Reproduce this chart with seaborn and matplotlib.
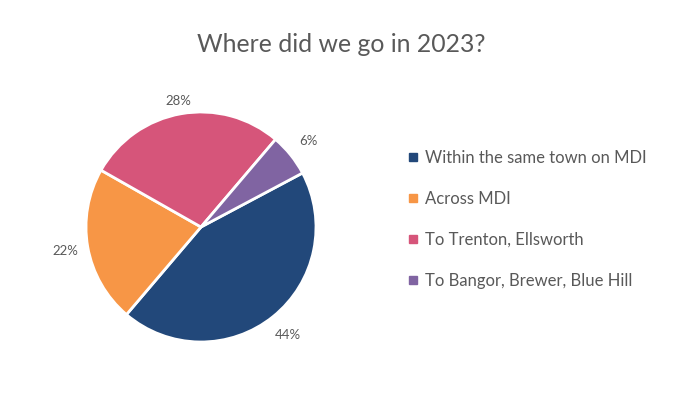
import matplotlib
matplotlib.use("Agg")
import matplotlib.pyplot as plt
import seaborn as sns
from matplotlib.lines import Line2D

categories = ["Within the same town on MDI", "Across MDI", "To Trenton, Ellsworth", "To Bangor, Brewer, Blue Hill"]
values = [44, 22, 28, 6]
colors = ["#22487A", "#F79646", "#D6557A", "#8064A2"]
title = "Where did we go in 2023?"

sns.set_theme(style="white")
plt.rcParams['font.family'] = ['Lato', 'DejaVu Sans']
text_color = "#595959"

W, H = 700, 393
fig = plt.figure(figsize=(W/100, H/100), dpi=100)
fig.patch.set_facecolor("white")

cx, cy, R = 201, 227, 115
ax = fig.add_axes([(cx-R)/W, (H-cy-R)/H, 2*R/W, 2*R/H])
wedges, texts, autotexts = ax.pie(
    values, colors=colors, startangle=28, counterclock=False,
    autopct=lambda p: f"{p:.0f}%", pctdistance=1.2,
    wedgeprops=dict(edgecolor="white", linewidth=2),
    textprops=dict(color=text_color, fontsize=9.5))
# Trenton label sits a bit closer to the pie in the reference
x, y = autotexts[2].get_position()
autotexts[2].set_position((x * 0.93, y * 0.93))
ax.set_aspect("equal")
ax.set_xlim(-1, 1)
ax.set_ylim(-1, 1)
ax.axis("off")

fig.text(341/W, 1-45/H, title, ha="center", va="center", fontsize=17.8, color=text_color)

handles = [Line2D([0], [0], marker="s", linestyle="none", markersize=6,
                  markerfacecolor=c, markeredgecolor=c) for c in colors]
leg = fig.legend(handles, categories, loc="upper left",
                 bbox_to_anchor=(390/W, 1-135/H), frameon=False,
                 fontsize=12, labelspacing=1.5, handletextpad=0.2,
                 handlelength=1.0)
for t in leg.get_texts():
    t.set_color(text_color)

fig.savefig("out.png", dpi=100, facecolor="white")
